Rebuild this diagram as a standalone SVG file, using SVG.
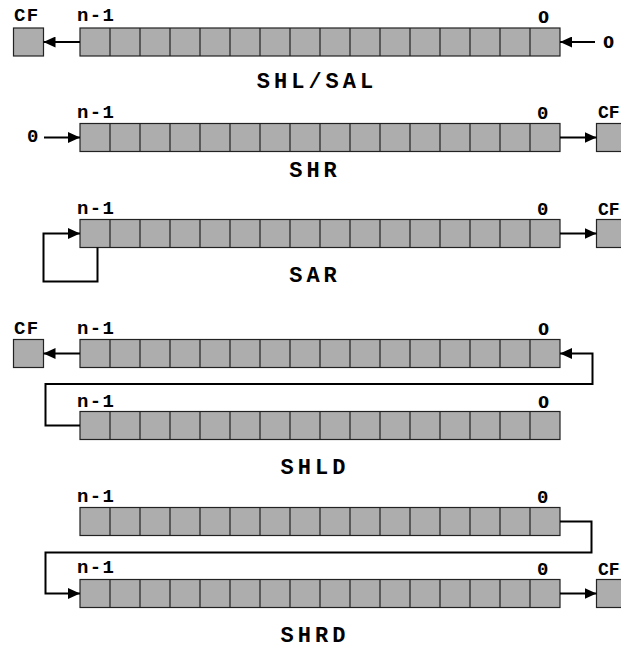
<svg xmlns="http://www.w3.org/2000/svg" xmlns:xlink="http://www.w3.org/1999/xlink" width="621" height="649" viewBox="0 0 621 649">
<style>
.bar{fill:#adadad;stroke:#222;stroke-width:1.2}
.div{stroke:#222;stroke-width:1.2}
.cf{fill:#adadad;stroke:#222;stroke-width:1.2}
.con{fill:none;stroke:#000;stroke-width:2}
.mono{font-family:"Liberation Mono","Courier New",monospace;font-weight:bold;font-size:19px;letter-spacing:1.3px;fill:#000}
.cfr{font-family:"Liberation Mono","Courier New",monospace;font-weight:bold;font-size:18px;fill:#000}
.sans{font-family:"DejaVu Sans",sans-serif;font-weight:bold;font-size:16px;fill:#000}
.title{font-family:"Liberation Mono","Courier New",monospace;font-weight:bold;font-size:22px;letter-spacing:4px;fill:#000;text-anchor:middle}
</style>
<defs>
<marker id="ah" markerUnits="userSpaceOnUse" markerWidth="12" markerHeight="11" refX="12" refY="5.5" orient="auto">
<path d="M0,0 L12,5.5 L0,11 z" fill="#000"/>
</marker>
<g id="reg">
<rect class="bar" x="80" y="0" width="480" height="28"/>
<path class="div" d="M110,0V28M140,0V28M170,0V28M200,0V28M230,0V28M260,0V28M290,0V28M320,0V28M350,0V28M380,0V28M410,0V28M440,0V28M470,0V28M500,0V28M530,0V28"/>
</g>
</defs>
<rect width="621" height="649" fill="#fff"/>

<g id="shl">
<rect class="cf" x="13.5" y="28" width="30" height="28"/>
<text class="mono" x="14" y="21">CF</text>
<use xlink:href="#reg" href="#reg" transform="translate(0,28)"/>
<text class="mono" x="77" y="21">n-1</text>
<text class="sans" x="538" y="23">0</text>
<text class="sans" x="603" y="48">0</text>
<text class="title" x="317" y="88">SHL/SAL</text>
</g>

<g id="shr">
<text class="mono" x="27" y="142">0</text>
<use xlink:href="#reg" href="#reg" transform="translate(0,123.5)"/>
<text class="mono" x="77" y="118">n-1</text>
<text class="mono" x="537" y="119">0</text>
<rect class="cf" x="596.5" y="123.5" width="30" height="28"/>
<text class="cfr" x="598" y="118">CF</text>
<text class="title" x="315" y="177">SHR</text>
</g>

<g id="sar">
<use xlink:href="#reg" href="#reg" transform="translate(0,219.5)"/>
<text class="mono" x="77" y="214">n-1</text>
<text class="mono" x="537" y="215">0</text>
<rect class="cf" x="596.5" y="219.5" width="30" height="28"/>
<text class="cfr" x="598" y="215">CF</text>
<text class="title" x="315" y="282">SAR</text>
</g>

<g id="shld">
<rect class="cf" x="13.5" y="339.5" width="30" height="28"/>
<text class="mono" x="14" y="333.5">CF</text>
<use xlink:href="#reg" href="#reg" transform="translate(0,339.5)"/>
<text class="mono" x="77" y="333.5">n-1</text>
<text class="sans" x="538" y="335">0</text>
<use xlink:href="#reg" href="#reg" transform="translate(0,411.5)"/>
<text class="mono" x="77" y="406.5">n-1</text>
<text class="sans" x="538" y="408">0</text>
<text class="title" x="315" y="474">SHLD</text>
</g>

<g id="shrd">
<use xlink:href="#reg" href="#reg" transform="translate(0,507.5)"/>
<text class="mono" x="77" y="501.5">n-1</text>
<text class="mono" x="537" y="503">0</text>
<use xlink:href="#reg" href="#reg" transform="translate(0,579.5)"/>
<text class="mono" x="77" y="573">n-1</text>
<text class="mono" x="537" y="575">0</text>
<rect class="cf" x="596.5" y="579.5" width="30" height="28"/>
<text class="cfr" x="598" y="575">CF</text>
<text class="title" x="315" y="642">SHRD</text>
</g>

<g id="connectors">
<path class="con" d="M80,42 H43.5" marker-end="url(#ah)"/>
<path class="con" d="M595,42 H560" marker-end="url(#ah)"/>
<path class="con" d="M44,137.5 H80" marker-end="url(#ah)"/>
<path class="con" d="M560,137.5 H596.5" marker-end="url(#ah)"/>
<path class="con" d="M97.5,247.5 V281.5 H43.5 V233.5 H80" marker-end="url(#ah)"/>
<path class="con" d="M560,233.5 H596.5" marker-end="url(#ah)"/>
<path class="con" d="M80,353.5 H43.5" marker-end="url(#ah)"/>
<path class="con" d="M80,425.5 H45.5 V384 H592.5 V353.5 H560" marker-end="url(#ah)"/>
<path class="con" d="M560,521.5 H591.5 V552.5 H45.5 V593.5 H80" marker-end="url(#ah)"/>
<path class="con" d="M560,593.5 H596.5" marker-end="url(#ah)"/>
</g>
</svg>
